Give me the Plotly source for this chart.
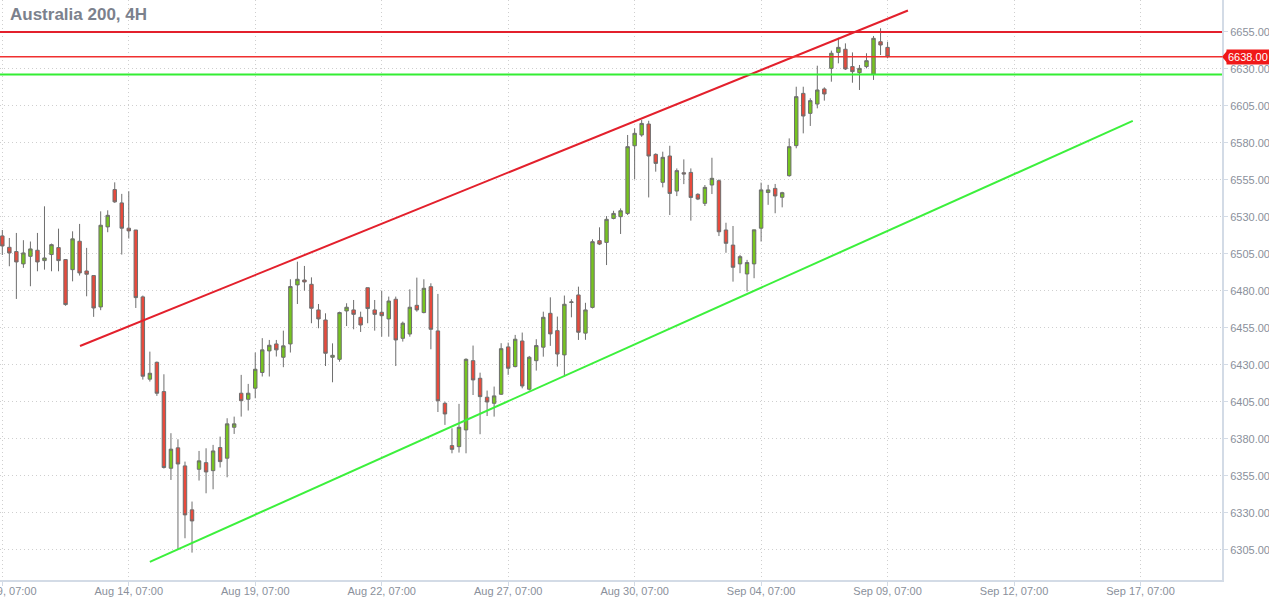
import plotly.graph_objects as go

# ---------------- data ----------------
opens = [6517.2, 6509.5, 6506.6, 6498.3, 6503.4, 6507.5, 6500.5, 6504.6, 6509.3, 6501.2,
         6494.4, 6513.6, 6493.5, 6490.4, 6469.2, 6523.3, 6548.5, 6539.5, 6522.4, 6521.2,
         6476.0, 6420.4, 6431.8, 6412.0, 6360.2, 6374.0, 6361.8, 6332.1, 6359.5, 6364.0,
         6358.6, 6374.2, 6367.0, 6387.9, 6410.9, 6406.8, 6414.3, 6424.9, 6439.5, 6444.2,
         6435.2, 6444.2, 6484.1, 6487.4, 6484.5, 6467.2, 6460.4, 6435.2, 6433.8, 6466.5,
         6467.2, 6462.2, 6482.2, 6467.2, 6465.6, 6461.1, 6474.4, 6448.0, 6450.9, 6470.3,
         6465.4, 6482.9, 6453.0, 6404.1, 6375.5, 6374.8, 6386.1, 6432.9, 6421.0, 6408.2,
         6404.1, 6410.2, 6442.2, 6428.9, 6446.2, 6413.6, 6432.9, 6442.0, 6464.9, 6453.2,
         6436.8, 6472.2, 6477.3, 6451.5, 6468.9, 6514.0, 6512.8, 6529.0, 6530.2, 6532.4,
         6578.1, 6585.4, 6592.8, 6572.3, 6553.4, 6571.2, 6547.5, 6559.9, 6560.1, 6545.3,
         6539.2, 6551.6, 6554.5, 6521.2, 6511.0, 6498.3, 6491.5, 6498.3, 6522.4, 6546.5,
         6549.3, 6543.3, 6557.9, 6578.2, 6613.5, 6600.0, 6606.3, 6616.5, 6630.4, 6641.2,
         6643.3, 6631.6, 6627.5, 6631.6, 6626.6, 6648.4, 6644.6]
highs = [6521.2, 6515.8, 6519.2, 6514.3, 6513.4, 6519.2, 6537.2, 6512.0, 6522.1, 6501.5,
         6520.3, 6525.3, 6509.1, 6490.4, 6533.8, 6534.5, 6553.4, 6545.6, 6547.4, 6521.2,
         6476.9, 6439.0, 6432.3, 6423.7, 6383.9, 6379.8, 6364.7, 6337.7, 6371.9, 6373.7,
         6376.0, 6381.6, 6394.0, 6395.1, 6423.3, 6417.2, 6438.4, 6448.1, 6446.9, 6446.9,
         6453.2, 6487.9, 6499.8, 6496.9, 6489.2, 6471.2, 6464.9, 6444.6, 6466.0, 6471.7,
         6473.9, 6466.0, 6482.2, 6473.9, 6480.2, 6476.2, 6476.2, 6459.3, 6481.1, 6489.0,
         6487.9, 6485.2, 6478.0, 6405.2, 6387.2, 6403.7, 6434.5, 6443.1, 6424.8, 6412.7,
         6415.4, 6444.7, 6445.1, 6450.3, 6451.9, 6436.1, 6447.4, 6466.0, 6475.7, 6462.7,
         6476.9, 6474.4, 6482.9, 6472.0, 6514.9, 6523.0, 6530.6, 6534.2, 6535.8, 6585.4,
         6589.9, 6595.5, 6595.0, 6573.0, 6574.1, 6578.1, 6562.8, 6568.9, 6562.8, 6546.0,
         6551.6, 6570.0, 6555.4, 6526.1, 6523.9, 6504.4, 6501.0, 6521.3, 6553.2, 6551.7,
         6552.3, 6547.0, 6583.1, 6618.0, 6618.0, 6610.2, 6632.2, 6617.6, 6642.4, 6651.1,
         6647.3, 6641.2, 6632.7, 6640.6, 6652.3, 6657.5, 6648.4]
lows = [6504.3, 6496.7, 6474.6, 6495.6, 6483.2, 6493.3, 6494.4, 6493.3, 6493.3, 6470.0,
        6486.5, 6490.4, 6476.4, 6462.5, 6467.0, 6519.7, 6539.5, 6504.6, 6515.4, 6468.5,
        6420.1, 6418.8, 6409.1, 6360.0, 6352.3, 6305.5, 6312.9, 6303.2, 6351.9, 6343.3,
        6346.0, 6360.7, 6354.1, 6383.4, 6395.1, 6399.2, 6407.5, 6422.2, 6422.2, 6435.7,
        6428.5, 6438.4, 6471.2, 6480.2, 6458.2, 6454.8, 6429.3, 6418.3, 6432.2, 6456.3,
        6454.1, 6452.3, 6458.2, 6453.2, 6449.1, 6449.1, 6429.3, 6445.8, 6449.1, 6466.0,
        6464.9, 6440.6, 6398.2, 6389.5, 6370.3, 6370.8, 6370.3, 6409.7, 6383.2, 6395.5,
        6395.1, 6409.7, 6423.3, 6428.4, 6414.2, 6412.7, 6426.2, 6435.6, 6442.9, 6428.9,
        6422.1, 6462.2, 6446.9, 6447.0, 6468.2, 6511.0, 6497.5, 6528.4, 6518.5, 6531.3,
        6555.4, 6584.2, 6543.2, 6560.6, 6550.0, 6531.3, 6544.1, 6552.2, 6527.5, 6541.4,
        6537.4, 6545.5, 6517.1, 6505.8, 6486.3, 6492.0, 6479.6, 6488.6, 6513.4, 6538.2,
        6532.5, 6536.5, 6557.2, 6576.4, 6586.5, 6591.5, 6603.4, 6608.6, 6621.4, 6633.8,
        6629.3, 6620.7, 6615.8, 6630.4, 6622.6, 6639.4, 6637.2]
closes = [6510.4, 6505.7, 6499.6, 6505.7, 6508.4, 6499.6, 6502.3, 6511.3, 6500.5, 6470.8,
          6515.2, 6492.2, 6491.3, 6468.5, 6524.4, 6531.1, 6540.2, 6522.4, 6520.6, 6475.5,
          6422.4, 6424.4, 6410.9, 6360.7, 6373.1, 6363.1, 6328.7, 6324.6, 6365.2, 6357.7,
          6371.9, 6364.7, 6390.2, 6390.2, 6405.9, 6410.9, 6427.1, 6440.2, 6443.3, 6440.2,
          6442.9, 6483.0, 6487.9, 6486.1, 6468.3, 6461.1, 6437.9, 6436.5, 6465.4, 6469.0,
          6464.2, 6457.0, 6468.1, 6464.2, 6463.3, 6473.2, 6446.9, 6458.2, 6469.0, 6467.2,
          6481.8, 6454.1, 6405.8, 6396.9, 6373.0, 6387.9, 6433.8, 6419.9, 6408.6, 6405.0,
          6409.1, 6441.0, 6427.8, 6447.4, 6415.8, 6435.2, 6443.1, 6462.2, 6451.0, 6437.4,
          6471.0, 6472.6, 6452.1, 6467.2, 6513.3, 6511.7, 6528.4, 6532.4, 6534.2, 6577.5,
          6586.5, 6593.2, 6571.2, 6566.2, 6570.3, 6545.9, 6561.3, 6559.0, 6543.2, 6542.1,
          6550.0, 6556.1, 6520.0, 6512.2, 6496.0, 6503.2, 6499.2, 6521.3, 6548.3, 6548.3,
          6544.2, 6546.4, 6577.5, 6611.3, 6598.2, 6608.6, 6615.8, 6613.1, 6640.6, 6644.6,
          6630.0, 6628.2, 6630.4, 6635.6, 6650.7, 6646.2, 6638.3]
bar_index = list(range(len(opens)))

tick_positions = [0, 18, 36, 54, 72, 90, 108, 126, 144, 162]
tick_labels = ["Aug 09, 07:00", "Aug 14, 07:00", "Aug 19, 07:00", "Aug 22, 07:00",
               "Aug 27, 07:00", "Aug 30, 07:00", "Sep 04, 07:00", "Sep 09, 07:00",
               "Sep 12, 07:00", "Sep 17, 07:00"]
price_ticks = [6305, 6330, 6355, 6380, 6405, 6430, 6455, 6480, 6505, 6530, 6555,
               6580, 6605, 6630, 6655]
price_tick_labels = ["6305.00", "6330.00", "6355.00", "6380.00", "6405.00", "6430.00",
                     "6455.00", "6480.00", "6505.00", "6530.00", "6555.00", "6580.00",
                     "6605.00", "6630.00", "6655.00"]

# trend lines (bar index, price)
resistance_x = [11.06, 128.9]
resistance_y = [6442.8, 6669.5]
support_x = [21.0, 160.9]
support_y = [6296.9, 6594.9]

# horizontal levels
resistance_level = 6655.0
last_price = 6638.3
last_price_label = "6638.00"
support_level = 6626.2

x_range = [-0.33, 173.6]
y_range = [6284.7, 6676.6]

GREEN = "#76c41f"
RED = "#e84a3c"
WICK = "#6e6e6e"
AXIS = "#d3dbe6"
TXT = "#8a909b"
GRID = "#cfcfcf"
FONT = "Liberation Sans, Arial, sans-serif"

fig = go.Figure()
fig.add_trace(go.Candlestick(
    x=bar_index, open=opens, high=highs, low=lows, close=closes,
    increasing=dict(fillcolor=GREEN, line=dict(color=WICK, width=1)),
    decreasing=dict(fillcolor=RED, line=dict(color=WICK, width=1)),
    whiskerwidth=0, showlegend=False, hoverinfo="skip"))

fig.add_trace(go.Scatter(x=resistance_x, y=resistance_y, mode="lines",
                         line=dict(color="#e3202c", width=2), showlegend=False,
                         hoverinfo="skip"))
fig.add_trace(go.Scatter(x=support_x, y=support_y, mode="lines",
                         line=dict(color="#3cf03c", width=2), showlegend=False,
                         hoverinfo="skip"))

fig.add_shape(type="line", xref="paper", yref="y", x0=0, x1=1,
              y0=resistance_level, y1=resistance_level,
              line=dict(color="#e3202c", width=2))
fig.add_shape(type="line", xref="paper", yref="y", x0=0, x1=1,
              y0=last_price, y1=last_price,
              line=dict(color="#f03030", width=1.5))
fig.add_shape(type="line", xref="paper", yref="y", x0=0, x1=1,
              y0=support_level, y1=support_level,
              line=dict(color="#33ee33", width=2))

# last price label
fig.add_annotation(xref="paper", yref="y", x=1, y=last_price, xanchor="left",
                   yanchor="middle", xshift=4, text=last_price_label, showarrow=False,
                   bgcolor="#f01818", borderpad=1,
                   font=dict(family=FONT, size=11, color="white"))
fig.add_shape(type="path", xref="paper", yref="y",
              path=f"M 1.0 {last_price} L 1.0045 {last_price + 4.4} L 1.0045 {last_price - 4.4} Z",
              fillcolor="#f01818", line=dict(width=0))

# title
fig.add_annotation(xref="paper", yref="paper", x=0, y=1, xanchor="left", yanchor="top",
                   xshift=8, yshift=-3, text="<b>Australia 200, 4H</b>", showarrow=False,
                   font=dict(family=FONT, size=17, color="#7b818d"))

fig.update_layout(
    width=1269, height=599,
    margin=dict(l=0, r=47, t=0, b=19, autoexpand=False),
    paper_bgcolor="white", plot_bgcolor="white",
    showlegend=False,
    font=dict(family=FONT, size=11, color=TXT),
    xaxis=dict(range=x_range, rangeslider=dict(visible=False),
               tickmode="array", tickvals=tick_positions, ticktext=tick_labels,
               ticklabeloverflow="allow", automargin=False, ticklabelstandoff=-4,
               showgrid=True, gridcolor=GRID, griddash="1px,3px", gridwidth=1,
               showline=True, linecolor=AXIS, linewidth=2,
               ticks="outside", ticklen=4, tickcolor=AXIS,
               tickfont=dict(size=11, color=TXT), zeroline=False, fixedrange=True),
    yaxis=dict(range=y_range, side="right", tickmode="array", tickvals=price_ticks,
               ticktext=price_tick_labels, ticklabeloverflow="allow", automargin=False,
               showgrid=True, gridcolor=GRID, griddash="1px,3px", gridwidth=1,
               showline=True, linecolor=AXIS, linewidth=2,
               ticks="outside", ticklen=4, tickcolor=AXIS,
               tickfont=dict(size=11, color=TXT), zeroline=False, fixedrange=True),
)

fig.write_html("out.html", config={"displayModeBar": False},
               post_script="document.body.style.margin='0';document.body.style.overflow='hidden';")
